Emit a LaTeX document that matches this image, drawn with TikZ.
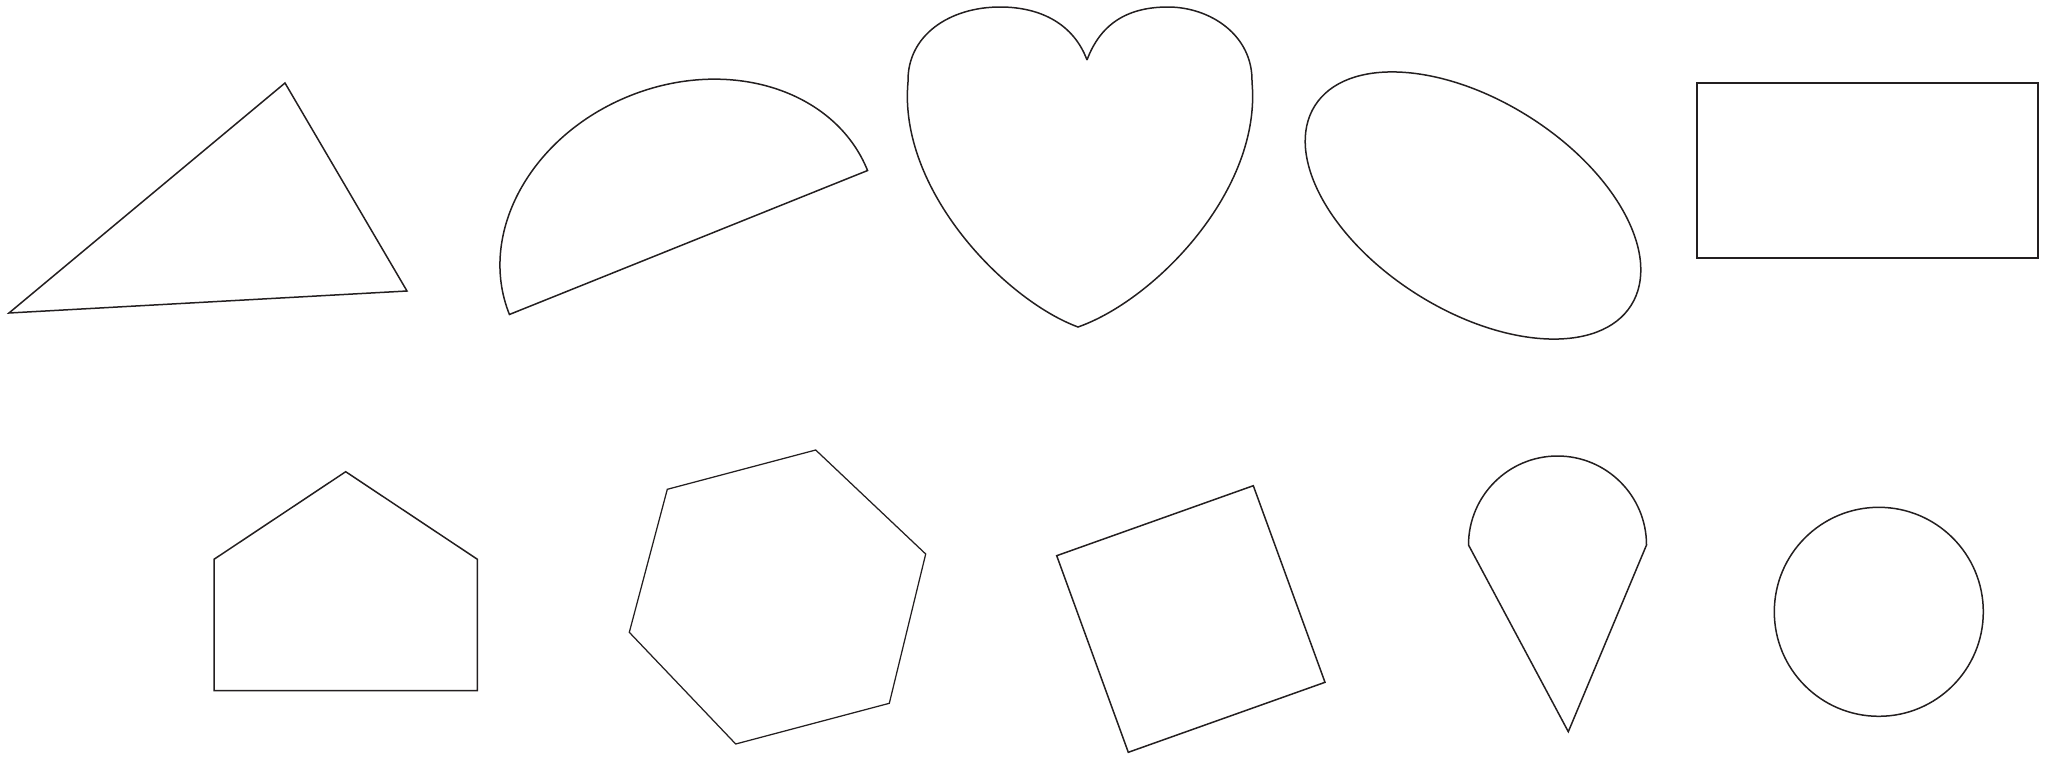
\documentclass[tikz,border=0pt]{standalone}
\usepackage{tikz}
\definecolor{ink}{HTML}{231F20}
\tikzset{
  outline/.style={draw=ink, line width=1.5pt, line join=miter},
  thinoutline/.style={draw=ink, line width=1.25pt, line join=miter},
  boldoutline/.style={draw=ink, line width=2.2pt, line join=miter}
}
\begin{document}
\begin{tikzpicture}[x=1pt,y=-1pt]
\useasboundingbox (0,0) rectangle (2051,758);

% triangle
\draw[outline] (285,83) -- (407,291) -- (9,313) -- cycle;

% half ellipse
\draw[outline, rotate around={21.9:(688.5,242.5)}]
  (881.5,242.5) arc[start angle=0, end angle=180, x radius=193pt, y radius=158pt] -- cycle;

% heart
\draw[outline] (1087,60)
  .. controls (1074,25) and (1042,7) .. (1000,7)
  .. controls (950,7) and (907,35) .. (908,82)
  .. controls (898,190) and (1005,300) .. (1078,327)
  .. controls (1155,300) and (1262,190) .. (1252,82)
  .. controls (1253,35) and (1210,7) .. (1168,7)
  .. controls (1126,7) and (1100,25) .. (1087,60);

% rotated ellipse
\draw[outline, rotate around={-32.25:(1473,205.5)}]
  (1473,205.5) ellipse [x radius=187pt, y radius=105pt];

% rectangle
\draw[boldoutline] (1697,83) rectangle (2038,258);

% pentagon
\draw[outline] (345.7,471.7) -- (477.4,559.3) -- (477.4,690.7) -- (214,690.7) -- (214,559.3) -- cycle;

% hexagon
\draw[thinoutline] (815.7,450) -- (925.7,554) -- (889.3,703.3) -- (735.7,744) -- (629.3,632.3) -- (667.3,489.3) -- cycle;

% square
\draw[outline] (1056.7,555.7) -- (1253.3,485.7) -- (1325,682.3) -- (1128.3,752.3) -- cycle;

% drop
\draw[outline] (1468.5,545) arc[start angle=180, end angle=0, radius=89pt] -- (1568.3,731.7) -- cycle;

% circle
\draw[outline] (1878.8,611.8) circle[radius=104.5pt];
\end{tikzpicture}
\end{document}
